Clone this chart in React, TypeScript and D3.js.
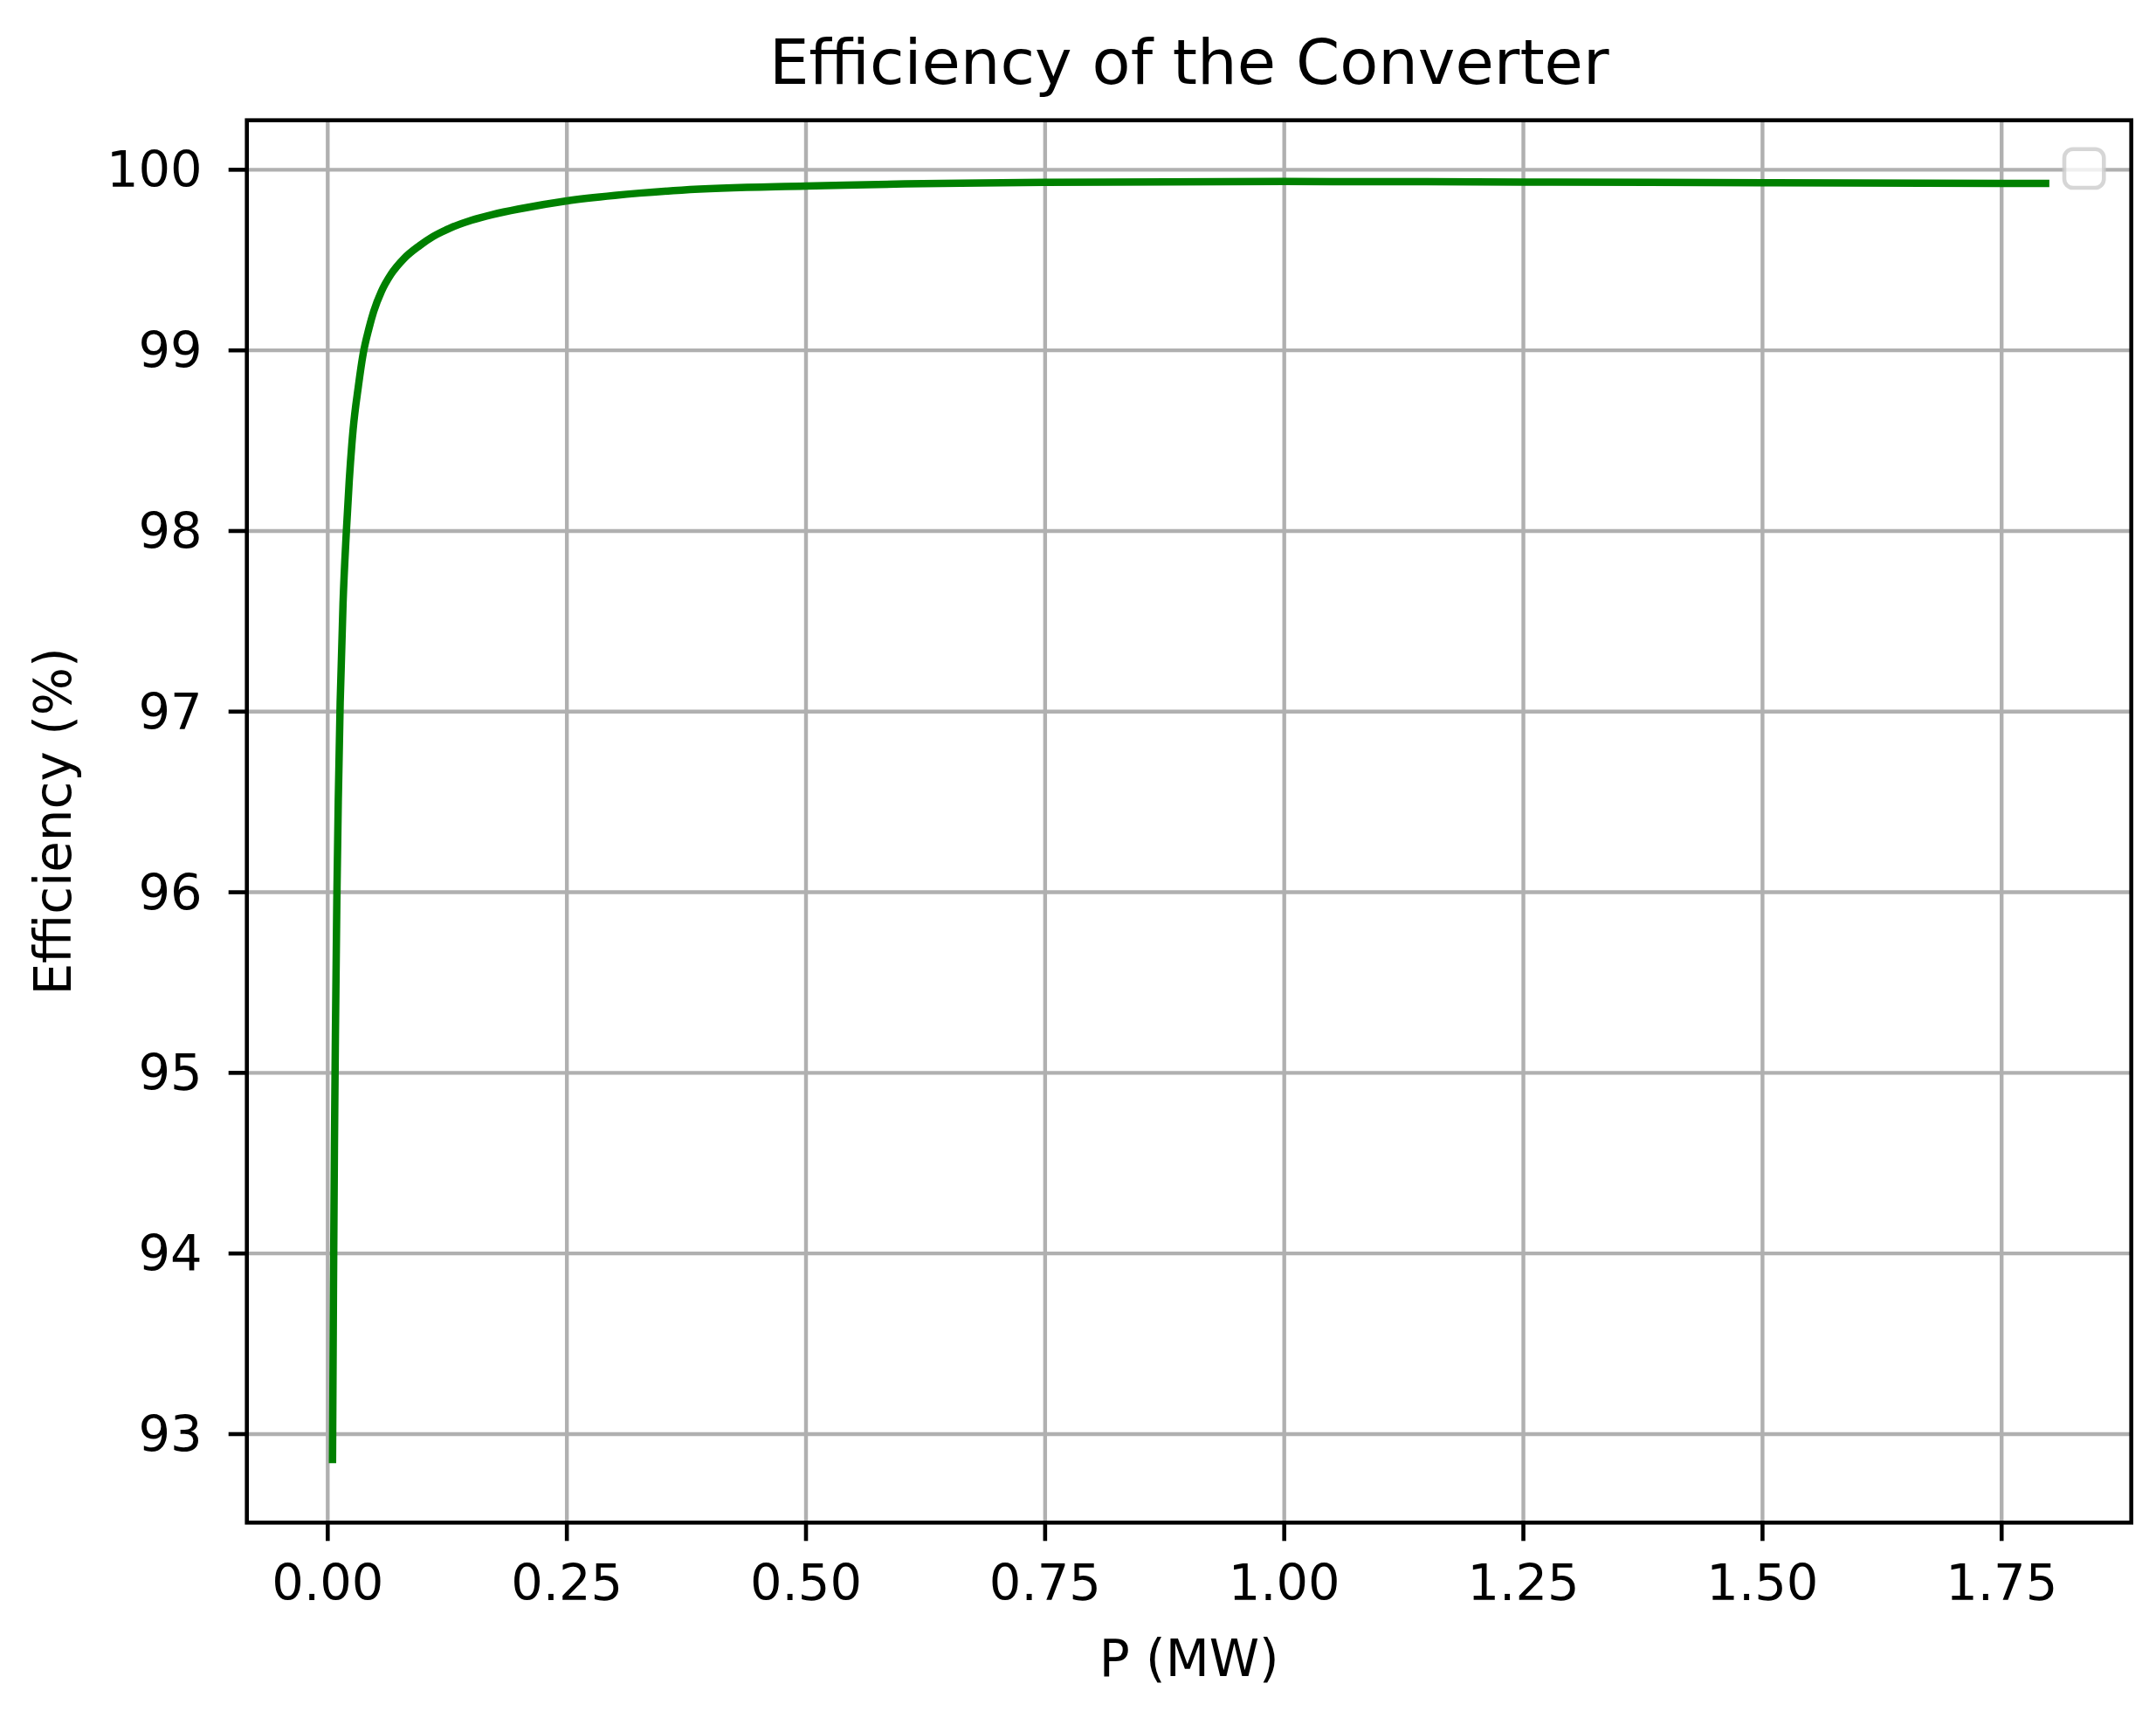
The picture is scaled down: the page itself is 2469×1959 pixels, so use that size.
import React from "react";
import * as d3 from "d3";

// Data
const powerMW: number[] = [
  0.005, 0.006, 0.007, 0.008, 0.0095, 0.011, 0.013, 0.016, 0.0195, 0.0225,
  0.0265, 0.032, 0.037, 0.043, 0.048, 0.056, 0.066, 0.08, 0.096, 0.11,
  0.127, 0.15, 0.1725, 0.2, 0.25, 0.3, 0.37, 0.5, 0.75, 1.0, 1.25, 1.5, 1.796,
];
const efficiencyPct: number[] = [
  92.86, 93.8, 94.6, 95.2, 95.95, 96.5, 97.05, 97.6, 98.0, 98.28,
  98.56, 98.8, 98.98, 99.12, 99.215, 99.325, 99.42, 99.51, 99.58, 99.63,
  99.675, 99.72, 99.752, 99.783, 99.828, 99.858, 99.887, 99.91, 99.93, 99.935, 99.932, 99.928, 99.924,
];
const xTicks: number[] = [0, 0.25, 0.5, 0.75, 1.0, 1.25, 1.5, 1.75];
const yTicks: number[] = [93, 94, 95, 96, 97, 98, 99, 100];
const yLimits: [number, number] = [92.51, 100.274];

const titleText = "Efficiency of the Converter";
const xLabelText = "P (MW)";
const yLabelText = "Efficiency (%)";

const W = 2469;
const H = 1959;
const FONT = "'DejaVu Sans', 'Liberation Sans', sans-serif";

export default function App() {
  const left = 282.7;
  const right = 2440.7;
  const top = 137.7;
  const bottom = 1743.3;

  const xMin = d3.min(powerMW) as number;
  const xMax = d3.max(powerMW) as number;
  const xR = xMax - xMin;
  const x = d3.scaleLinear().domain([xMin - 0.05 * xR, xMax + 0.05 * xR]).range([left, right]);
  const y = d3.scaleLinear().domain(yLimits).range([bottom, top]);

  const pts: [number, number][] = powerMW.map((p, i) => [p, efficiencyPct[i]]);
  const line = d3
    .line<[number, number]>()
    .x((d) => x(d[0]))
    .y((d) => y(d[1]))
    .curve(d3.curveMonotoneX);

  const tickFs = 57.5;
  const spineW = 4.6;
  const tickLen = 21;
  const gridColor = "#b0b0b0";
  const fmtX = d3.format(".2f");

  return (
    <svg
      width={W}
      height={H}
      viewBox={`0 0 ${W} ${H}`}
      style={{ position: "absolute", left: 0, top: 0, background: "#ffffff" }}
      xmlns="http://www.w3.org/2000/svg"
    >
      <rect x={0} y={0} width={W} height={H} fill="#ffffff" />
      {/* grid */}
      <g stroke={gridColor} strokeWidth={4.4}>
        {xTicks.map((t) => (
          <line key={"gx" + t} x1={x(t)} x2={x(t)} y1={top} y2={bottom} />
        ))}
        {yTicks.map((t) => (
          <line key={"gy" + t} x1={left} x2={right} y1={y(t)} y2={y(t)} />
        ))}
      </g>
      {/* curve */}
      <path
        d={line(pts) || ""}
        fill="none"
        stroke="#008000"
        strokeWidth={8.5}
        strokeLinecap="square"
        strokeLinejoin="round"
      />
      {/* spines */}
      <rect
        x={left}
        y={top}
        width={right - left}
        height={bottom - top}
        fill="none"
        stroke="#000000"
        strokeWidth={spineW}
        strokeLinejoin="miter"
      />
      {/* x ticks */}
      <g>
        {xTicks.map((t) => (
          <g key={"xt" + t}>
            <line x1={x(t)} x2={x(t)} y1={bottom} y2={bottom + tickLen} stroke="#000" strokeWidth={spineW} />
            <text
              x={x(t)}
              y={1831.7}
              textAnchor="middle"
              fontFamily={FONT}
              fontSize={tickFs}
              fill="#000"
            >
              {fmtX(t)}
            </text>
          </g>
        ))}
      </g>
      {/* y ticks */}
      <g>
        {yTicks.map((t) => (
          <g key={"yt" + t}>
            <line x1={left - tickLen} x2={left} y1={y(t)} y2={y(t)} stroke="#000" strokeWidth={spineW} />
            <text
              x={231.7}
              y={y(t) + 0.35 * tickFs}
              textAnchor="end"
              fontFamily={FONT}
              fontSize={tickFs}
              fill="#000"
            >
              {String(t)}
            </text>
          </g>
        ))}
      </g>
      {/* empty legend frame */}
      <rect
        x={2364}
        y={170.7}
        width={45.3}
        height={44.3}
        rx={10}
        ry={10}
        fill="#ffffff"
        fillOpacity={0.8}
        stroke="#cccccc"
        strokeOpacity={0.8}
        strokeWidth={4.6}
      />
      {/* title & labels */}
      <text
        x={(left + right) / 2}
        y={96}
        textAnchor="middle"
        fontFamily={FONT}
        fontSize={72}
        fill="#000"
      >
        {titleText}
      </text>
      <text
        x={(left + right) / 2}
        y={1919.3}
        textAnchor="middle"
        fontFamily={FONT}
        fontSize={58}
        fill="#000"
      >
        {xLabelText}
      </text>
      <text
        transform={`translate(80.7, ${(top + bottom) / 2}) rotate(-90)`}
        x={0}
        y={0}
        textAnchor="middle"
        fontFamily={FONT}
        fontSize={58}
        fill="#000"
      >
        {yLabelText}
      </text>
    </svg>
  );
}
